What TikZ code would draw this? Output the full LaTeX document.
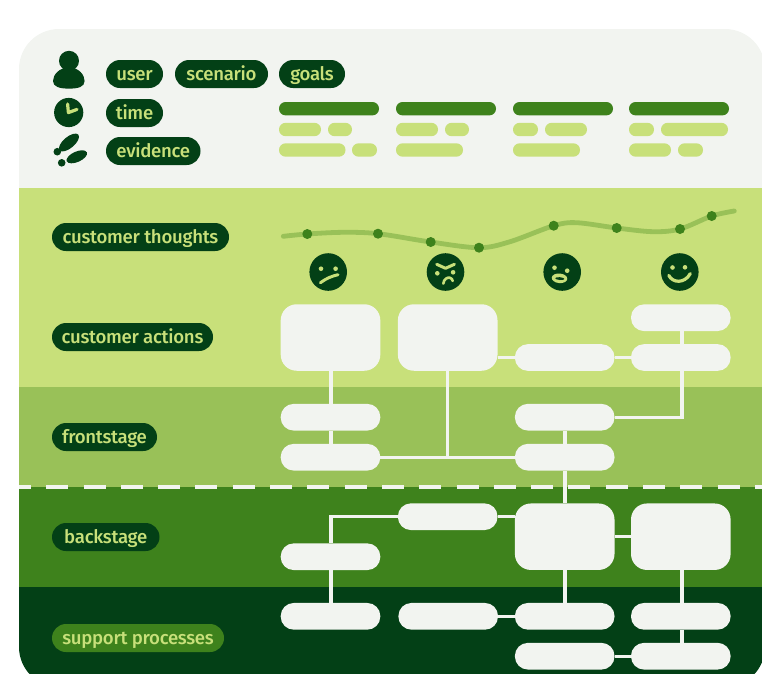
\documentclass[tikz,border=0pt]{standalone}
\usepackage{fontspec}
\setmainfont[LetterSpace=-1.5]{Fira Sans Medium}
\definecolor{cdark}{HTML}{034016}
\definecolor{cgreen}{HTML}{3E821C}
\definecolor{cmid}{HTML}{99C158}
\definecolor{clight}{HTML}{C8E07A}
\definecolor{cpaper}{HTML}{F2F4F0}
\tikzset{
  box/.style={fill=cpaper,inner sep=0pt,outer sep=0pt},
  pill/.style={box,minimum width=99.6pt,minimum height=26.7pt,rounded corners=13pt},
  bigbox/.style={box,minimum width=99.6pt,minimum height=66.5pt,rounded corners=16pt},
  tag/.style={fill=cdark,text=clight,inner sep=0pt,outer sep=0pt,minimum height=28pt,rounded corners=14pt,
    anchor=west,font=\fontsize{18.6pt}{20pt}\selectfont,text height=16pt,text depth=3.4pt},
  link/.style={draw=cpaper,line width=3.4pt},
  dot/.style={fill=cgreen,circle,minimum size=10pt,inner sep=0pt},
  face/.style={fill=cdark,circle,minimum size=37.6pt,inner sep=0pt},
  eye/.style={fill=clight},
  stroke/.style={draw=clight,line width=3pt,line cap=round,line join=round},
}
\newcommand{\barline}[4]{\fill[#4,rounded corners=6.6pt] (#1,#3) rectangle (#2,#3+13.4);}
\begin{document}
\begin{tikzpicture}[x=1pt,y=-1pt]
\useasboundingbox (0,0) rectangle (762,673);
\begin{scope}
  \clip[rounded corners=40pt] (19,29) rectangle (765,687);
  \fill[cpaper] (19,29) rectangle (765,188);
  \fill[clight] (19,188) rectangle (765,387);
  \fill[cmid] (19,387) rectangle (765,487);
  \fill[cgreen] (19,487) rectangle (765,587);
  \fill[cdark] (19,587) rectangle (765,687);
  \coordinate (dashL) at (8.9,487);
  \coordinate (dashR) at (765,487);
  \draw[cpaper,line width=3.4pt,dash pattern=on 22pt off 15.3pt] (dashL) -- (dashR);
\end{scope}

% header bars
\barline{279}{379}{102}{cgreen}\barline{396}{496}{102}{cgreen}\barline{513}{613}{102}{cgreen}\barline{629}{729}{102}{cgreen}
\barline{279}{321}{122.8}{clight}\barline{328}{352}{122.8}{clight}
\barline{279}{345.5}{143.3}{clight}\barline{352}{377}{143.3}{clight}
\barline{396}{438}{122.8}{clight}\barline{445}{469}{122.8}{clight}
\barline{396}{463}{143.3}{clight}
\barline{513}{538}{122.8}{clight}\barline{545}{587}{122.8}{clight}
\barline{513}{580}{143.3}{clight}
\barline{629}{654}{122.8}{clight}\barline{661}{728}{122.8}{clight}
\barline{629}{671}{143.3}{clight}\barline{678}{703}{143.3}{clight}

% header icons
\fill[cdark] (69,60.8) circle (10);
\fill[cdark] (69,67.5) .. controls (59,67.5) and (53,75) .. (53,81) .. controls (53,87) and (60,88.6) .. (69,88.6) .. controls (78,88.6) and (84.6,87) .. (84.6,81) .. controls (84.6,75) and (79,67.5) .. (69,67.5) -- cycle;
\fill[cdark] (68.7,112.5) circle (14.6);
\draw[stroke,line width=3.2pt] (67.6,104) -- (68.4,112.6) -- (77,109.4);
\fill[cdark,shift={(69,142.5)},rotate=40] (0,0) ellipse [x radius=12.2,y radius=5.6];
\fill[cdark,shift={(76.8,156.8)},rotate=24] (0,0) ellipse [x radius=11,y radius=5.2];
\fill[cdark] (57.3,151.7) circle (3.8);
\fill[cdark] (61.7,162.8) circle (3.8);

% labels
\node[tag,minimum width=57pt] (tUser) at (106,74) {user};
\node[tag,minimum width=93pt] (tScenario) at (175,74) {scenario};
\node[tag,minimum width=66pt] (tGoals) at (279,74) {goals};
\node[tag,minimum width=57pt] (tTime) at (106,113) {time};
\node[tag,minimum width=94.5pt] (tEvidence) at (106,151) {evidence};
\node[tag,minimum width=177pt] (tThoughts) at (52,237) {customer thoughts};
\node[tag,minimum width=161pt] (tActions) at (52,337) {customer actions};
\node[tag,minimum width=105pt] (tFront) at (52,437) {frontstage};
\node[tag,minimum width=107.5pt] (tBack) at (52,537) {backstage};
\node[tag,fill=cgreen,minimum width=172pt] (tSupport) at (52,638) {support processes};

% emotion curve
\coordinate (c0) at (283.3,236.3);
\coordinate (c1) at (307.3,234);
\coordinate (c2) at (343.3,232.3);
\coordinate (c3) at (378,233.7);
\coordinate (c4) at (430.7,242);
\coordinate (c5) at (479,247.7);
\coordinate (c6) at (510,241.7);
\coordinate (c7) at (553.7,225.7);
\coordinate (c8) at (576.7,222.7);
\coordinate (c9) at (616.7,228);
\coordinate (c10) at (653,231.7);
\coordinate (c11) at (680,229);
\coordinate (c12) at (711.7,216);
\coordinate (c13) at (734.3,211);
\draw[cmid,line width=4.8pt,line cap=round] plot[smooth,tension=.55] coordinates {(c0) (c1) (c2) (c3) (c4) (c5) (c6) (c7) (c8) (c9) (c10) (c11) (c12) (c13)};
\foreach \p in {1,3,4,5,7,9,11,12} \node[dot] (d\p) at (c\p) {};

% faces
\node[face] (f1) at (328.2,272) {};
\node[face] (f2) at (445.5,272) {};
\node[face] (f3) at (562.2,272) {};
\node[face] (f4) at (679.8,272) {};
\fill[eye] (321,268.7) circle (2.3) (335.6,268.7) circle (2.3);
\draw[stroke] (320.4,282.7) .. controls (326,278.5) and (332,276) .. (338,274.7);
\draw[stroke,line width=3pt] (436.7,264.3) -- (445.5,268.3) -- (454.4,264.3);
\fill[eye] (437.3,273.3) circle (2.3) (453.1,272.3) circle (2.3);
\draw[stroke,line width=2.6pt] (443.3,283.6) .. controls (443.8,279) and (447.5,277) .. (450,277.8) .. controls (451.5,278.2) and (452.5,279.5) .. (452.7,281);
\fill[eye] (554.5,267.7) circle (2.3) (567.2,270.7) circle (2.3);
\fill[eye,shift={(559.5,278.3)},rotate=-5] (0,0) ellipse [x radius=7.8,y radius=4.8];
\fill[cdark,shift={(559.8,278.6)},rotate=-5] (0,0) ellipse [x radius=4.6,y radius=1.4];
\fill[eye] (672.5,267.5) circle (2.3) (685,267.3) circle (2.3);
\draw[stroke,line width=3.2pt] (668.8,275.4) .. controls (672.5,283) and (684.5,284) .. (690.3,273.6);

% boxes
\node[bigbox] (a1) at (330.5,337.5) {};
\node[bigbox] (a2) at (447.7,337.5) {};
\node[pill] (a3) at (564.7,357.5) {};
\node[pill] (a4) at (680.8,317.7) {};
\node[pill] (a5) at (680.8,357.5) {};
\node[pill] (n1) at (330.5,417.2) {};
\node[pill] (n2) at (330.5,457.2) {};
\node[pill] (n3) at (564.7,417.2) {};
\node[pill] (n4) at (564.7,457.2) {};
\node[pill] (b1) at (447.7,516.7) {};
\node[pill] (b2) at (330.5,556.7) {};
\node[bigbox] (b3) at (564.7,536.7) {};
\node[bigbox] (b4) at (680.8,536.7) {};
\node[pill] (s1) at (330.5,616.3) {};
\node[pill] (s2) at (448.2,616.3) {};
\node[pill] (s3) at (564.7,616.3) {};
\node[pill] (s4) at (680.8,616.3) {};
\node[pill] (s5) at (564.7,656.2) {};
\node[pill] (s6) at (680.8,656.2) {};

% connectors
\coordinate (colA) at (331,300);
\coordinate (colC) at (565,300);
\coordinate (colD) at (682,300);
\draw[link] (colA |- a1.south) -- (colA |- n1.north);
\draw[link] (colA |- n1.south) -- (colA |- n2.north);
\draw[link] (n2) -- (n4);
\draw[link] (a2) -- (a2 |- n2);
\draw[link] (a2.east |- a3) -- (a3);
\draw[link] (a3) -- (a5);
\draw[link] (colD |- a4.south) -- (colD |- a5.north);
\draw[link] (colD |- a5.south) |- (n3.east);
\draw[link] (colC |- n3.south) -- (colC |- n4.north);
\draw[link] (colC |- n4.south) -- (colC |- b3.north);
\draw[link] (b1.west) -| (colA |- b2.north);
\draw[link] (b1) -- (b1 -| b3.west);
\draw[link] (colA |- b2.south) -- (colA |- s1.north);
\draw[link] (b3) -- (b4);
\draw[link] (colC |- b3.south) -- (colC |- s3.north);
\draw[link] (colD |- b4.south) -- (colD |- s4.north);
\draw[link] (s2) -- (s3);
\draw[link] (colD |- s4.south) -- (colD |- s6.north);
\draw[link] (s5) -- (s6);
\end{tikzpicture}
\end{document}
